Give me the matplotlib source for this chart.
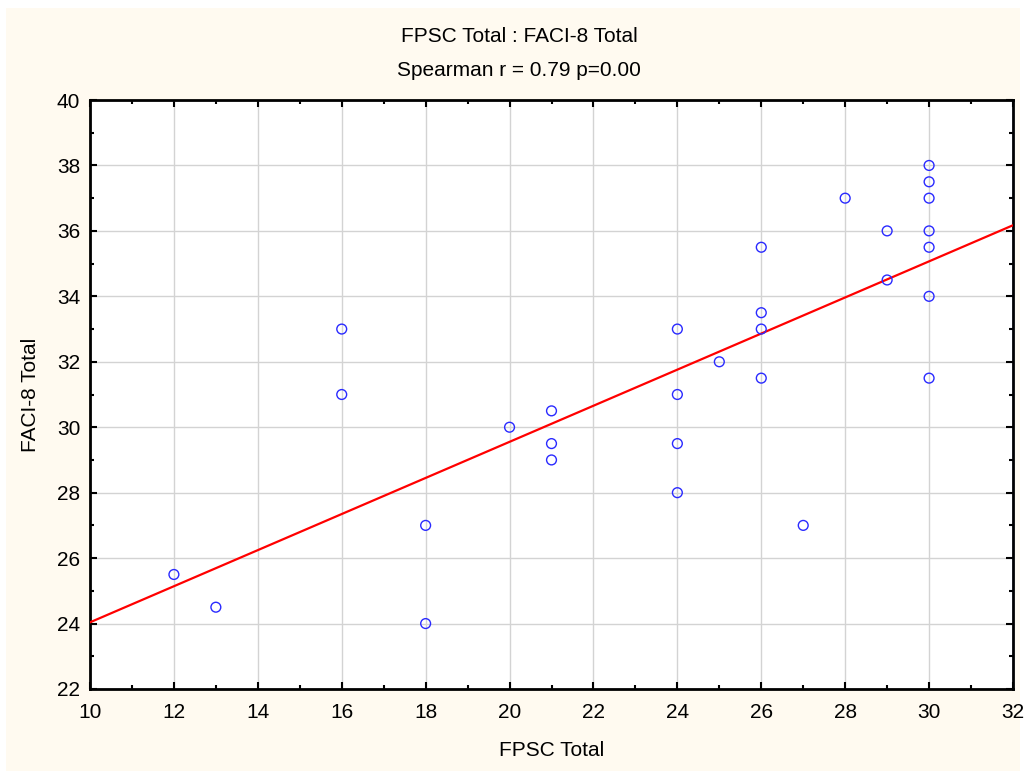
import numpy as np
import matplotlib.pyplot as plt
from matplotlib.patches import Rectangle
from matplotlib.ticker import MultipleLocator

plt.rcParams['font.family'] = ['Liberation Sans', 'DejaVu Sans']

# FPSC Total vs FACI-8 Total
fpsc = [12, 13, 16, 16, 18, 18, 20, 21, 21, 21, 24, 24, 24, 24, 25,
        26, 26, 26, 26, 27, 28, 29, 29, 30, 30, 30, 30, 30, 30, 30]
faci = [25.5, 24.5, 33, 31, 27, 24, 30, 30.5, 29.5, 29, 33, 31, 29.5, 28, 32,
        35.5, 33.5, 33, 31.5, 27, 37, 36, 34.5, 38, 37.5, 37, 36, 35.5, 34, 31.5]

x_ticks = list(range(10, 33, 2))
y_ticks = list(range(22, 41, 2))

x = np.array(fpsc, dtype=float)
y = np.array(faci, dtype=float)
slope, intercept = np.polyfit(x, y, 1)

fig = plt.figure(figsize=(10.26, 7.71), dpi=100)
fig.patch.set_facecolor('white')
fig.patches.append(Rectangle((6 / 1026, 0), 1014 / 1026, 763 / 771,
                             transform=fig.transFigure, facecolor='#fffaf0',
                             edgecolor='none', zorder=-10))

ax = fig.add_axes([90 / 1026, 1 - 689 / 771, 923 / 1026, 589 / 771])
ax.set_facecolor('white')

ax.grid(True, color='#d3d3d3', linewidth=1.0)
ax.set_axisbelow(True)

xl = np.array([10, 32])
ax.plot(xl, intercept + slope * xl, color='#ff0000', linewidth=1.6, zorder=3)
ax.scatter(x, y, s=50, facecolors='none', edgecolors='#2a2aff', linewidths=1.0, zorder=4)

ax.set_xlim(10, 32)
ax.set_ylim(22, 40)
ax.set_xticks(x_ticks)
ax.set_yticks(y_ticks)
ax.xaxis.set_minor_locator(MultipleLocator(1))
ax.yaxis.set_minor_locator(MultipleLocator(1))
ax.tick_params(which='both', direction='in', top=True, right=True,
               labelsize=15, width=1.5, colors='black')
ax.tick_params(which='major', length=5)
ax.tick_params(axis='x', which='major', pad=10)
ax.tick_params(axis='y', which='major', pad=7)
ax.tick_params(which='minor', length=3)
for s in ax.spines.values():
    s.set_linewidth(2)

ax.set_xlabel('FPSC Total', fontsize=15, labelpad=14)
ax.set_ylabel('FACI-8 Total', fontsize=15, labelpad=12)

fig.text(519 / 1026, 1 - 36 / 771, 'FPSC Total : FACI-8 Total', ha='center', va='center', fontsize=15)
fig.text(519 / 1026, 1 - 70 / 771, 'Spearman r = 0.79 p=0.00', ha='center', va='center', fontsize=15)

fig.savefig('out.png', dpi=100)
